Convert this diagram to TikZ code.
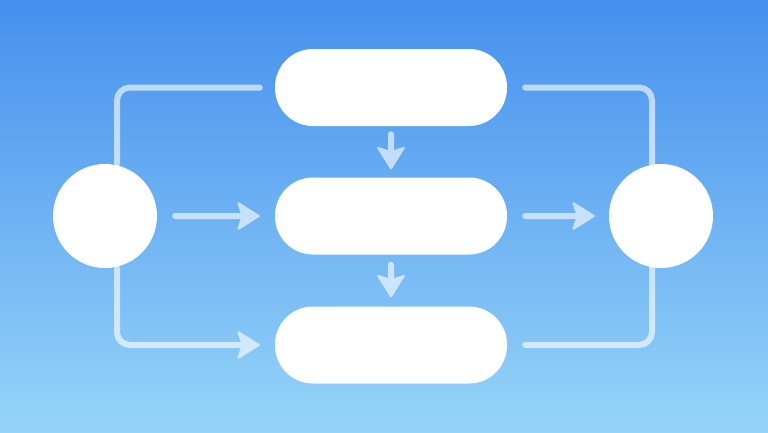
\documentclass[tikz,border=0pt]{standalone}
\usetikzlibrary{arrows.meta,calc}
\definecolor{bgtop}{HTML}{4590EE}
\definecolor{bgbot}{HTML}{96D4F8}
\begin{document}
\begin{tikzpicture}[x=1pt,y=-1pt,
  pill/.style={fill=white,draw=none,minimum width=232pt,minimum height=77pt,rounded corners=38pt,inner sep=0pt},
  disc/.style={circle,fill=white,draw=none,minimum size=104pt,inner sep=0pt},
  conn/.style={draw=white,line width=6pt,line cap=round,rounded corners=13pt},
  arr/.style={conn,-{Stealth[length=24pt 0,width=30pt 0,inset=5pt 0,fill=white,line width=2pt,round]}},
  grp/.style={transparency group,opacity=0.62}]
\shade[top color=bgtop,bottom color=bgbot] (0,0) rectangle (768,432);
\useasboundingbox (0,0) rectangle (768,432);
\node[pill] (top) at (391,87.5) {};
\node[pill] (mid) at (391,216) {};
\node[pill] (bot) at (391,345) {};
\node[disc] (L) at (105,216) {};
\node[disc] (R) at (661,216) {};
\begin{scope}[grp]
\draw[conn] ([xshift=12pt]L.north) |- ([xshift=-15pt]top.west);
\end{scope}
\begin{scope}[grp]
\draw[conn] ([xshift=18pt]top.east) -| ([xshift=-9pt]R.north);
\end{scope}
\begin{scope}[grp]
\draw[arr] ([xshift=12pt]L.south) |- ([xshift=-15pt]bot.west);
\end{scope}
\begin{scope}[grp]
\draw[conn] ([xshift=18pt]bot.east) -| ([xshift=-9pt]R.south);
\end{scope}
\begin{scope}[grp]
\draw[arr] ([xshift=18pt]L.east) -- ([xshift=-15pt]mid.west);
\end{scope}
\begin{scope}[grp]
\draw[arr] ([xshift=18pt]mid.east) -- ([xshift=-14pt]R.west);
\end{scope}
\begin{scope}[grp]
\draw[arr] ([yshift=-8pt]top.south) -- ([yshift=8pt]mid.north);
\end{scope}
\begin{scope}[grp]
\draw[arr] ([yshift=-10pt]mid.south) -- ([yshift=9pt]bot.north);
\end{scope}
\end{tikzpicture}
\end{document}
